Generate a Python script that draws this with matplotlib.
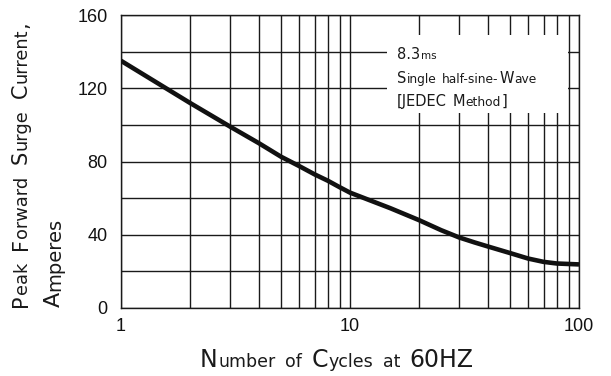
import matplotlib
matplotlib.use('Agg')
import matplotlib.pyplot as plt
from matplotlib.patches import Rectangle
from matplotlib.font_manager import FontProperties
from matplotlib.ticker import LogLocator, NullFormatter, FixedLocator

# ---------------- data ----------------
cycles = [1, 2, 3, 4, 5, 6, 7, 8, 9, 10, 15, 20, 25, 30, 35, 40, 50, 60, 70, 80, 100]
current = [135, 112, 99, 90, 82.6, 77.5, 73, 69.5, 66, 63, 54.5, 48, 42.5, 38.5, 35.8,
           33.6, 30, 27, 25.2, 24.3, 23.8]
y_ticks = [0, 40, 80, 120, 160]
y_minor = [20, 60, 100, 140]
x_ticks = [1, 10, 100]
x_tick_labels = ['1', '10', '100']
ylabel_line1 = 'Peak Forward Surge Current,'
ylabel_line2 = 'Amperes'
xlabel = 'Number of Cycles at 60HZ'
note_lines = ['8.3ms', 'Single half-sine-Wave', '[JEDEC Method]']
note_box_x = [14.5, 89.5]
note_box_y = [106.7, 149.1]

W, H = 611, 376
fig = plt.figure(figsize=(W / 100, H / 100), dpi=100)
ax = fig.add_axes([121 / W, 1 - 308 / H, (579 - 121) / W, (308 - 15) / H])
ax.set_xscale('log')
ax.set_xlim(1, 100)
ax.set_ylim(0, 160)

ax.xaxis.set_major_locator(FixedLocator(x_ticks))
ax.set_xticklabels(x_tick_labels)
ax.xaxis.set_minor_locator(LogLocator(base=10, subs=range(2, 10)))
ax.xaxis.set_minor_formatter(NullFormatter())
ax.set_yticks(y_ticks)
ax.set_yticks(y_minor, minor=True)

ax.set_axisbelow(True)
ax.grid(which='both', color='#1a1a1a', linewidth=1.0)
for t in ax.yaxis.get_major_ticks():
    if abs(t.get_loc() - 40) < 1e-6:
        t.gridline.set_color('#9a9a9a')

tick_font = ['Liberation Sans', 'DejaVu Sans']
ax.tick_params(which='both', length=0)
ax.tick_params(axis='y', pad=9.5)
ax.tick_params(axis='x', pad=7)
for lab in ax.get_xticklabels() + ax.get_yticklabels():
    lab.set_fontfamily(tick_font)
    lab.set_fontsize(13)
    lab.set_color('#111111')

for sp in ax.spines.values():
    sp.set_linewidth(1.0)
    sp.set_color('#1a1a1a')

# white box for the note
ax.add_patch(Rectangle((note_box_x[0], note_box_y[0]), note_box_x[1] - note_box_x[0],
                       note_box_y[1] - note_box_y[0], facecolor='white', edgecolor='none', zorder=1))

ax.plot(cycles, current, color='#111111', linewidth=3.3, solid_capstyle='butt', zorder=3)

# ---------------- small-caps style text ----------------
FAMILY = ['DejaVu Sans']
renderer = fig.canvas.get_renderer()


def runs_of(s):
    def cls(ch):
        if ch == ' ':
            return 'space'
        if ch.islower() or ch == '-':
            return 'small'
        return 'big'
    out = []
    for ch in s:
        c = cls(ch)
        if out and out[-1][1] == c:
            out[-1][0] += ch
        else:
            out.append([ch, c])
    return out


def draw_sc(x, y, s, big, small, rotation=0, space=5, track=0.5, color='#1a1a1a'):
    pos = 0.0
    for run, c in runs_of(s):
        if c == 'space':
            pos += space * len(run)
            continue
        size = big if c == 'big' else small
        fp = FontProperties(family=FAMILY, size=size)
        w, h, d = renderer.get_text_width_height_descent(run, fp, ismath=False)
        if rotation == 0:
            fig.text((x + pos) / W, 1 - y / H, run, fontproperties=fp, ha='left',
                     va='baseline', color=color)
        else:
            fig.text(x / W, 1 - (y - pos) / H, run, fontproperties=fp, ha='left',
                     va='baseline', rotation=90, rotation_mode='anchor', color=color)
        pos += w + track
    return pos


draw_sc(200, 367, xlabel, 17, 12.5, space=9, track=0.5)
draw_sc(27, 307, ylabel_line1, 15, 12.8, rotation=90, space=11, track=0.5)
draw_sc(60, 307, ylabel_line2, 16, 14, rotation=90, space=6, track=0.5)

draw_sc(397, 59, note_lines[0], 10.5, 7.5, space=4)
draw_sc(397, 83, note_lines[1], 10.5, 8.8, space=5, track=0.5)
draw_sc(397, 106, note_lines[2], 10.5, 8.8, space=5, track=0.5)

fig.savefig('out.png', dpi=100)
